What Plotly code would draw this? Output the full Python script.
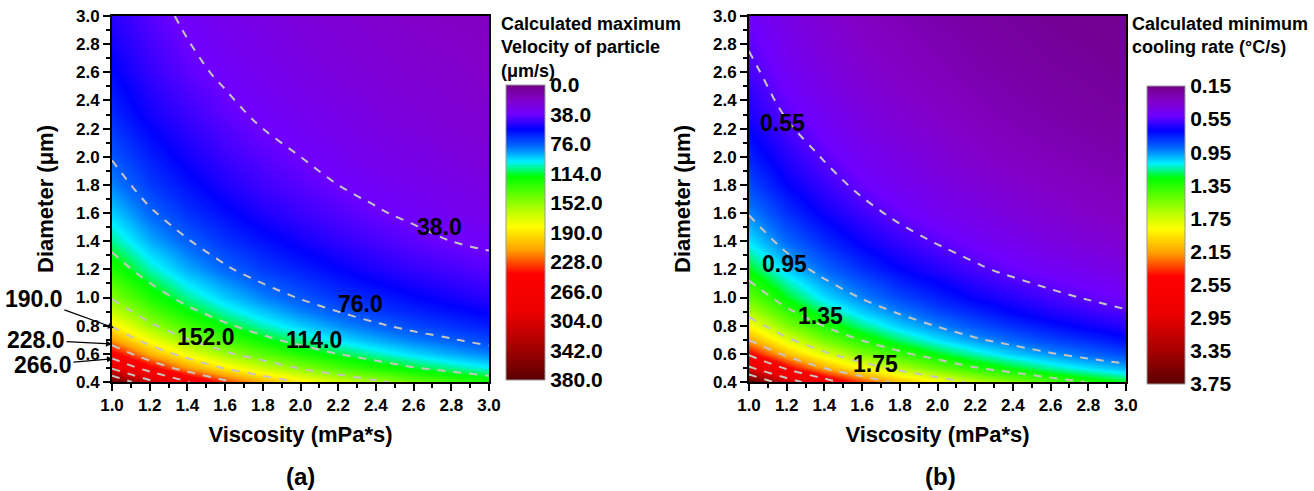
import plotly.graph_objects as go

# ---------------- data ----------------
VISCOSITY = [1.0, 1.2, 1.4, 1.6, 1.8, 2.0, 2.2, 2.4, 2.6, 2.8, 3.0]
DIAMETER = [0.4, 0.5, 0.6, 0.7, 0.8, 0.9, 1.0, 1.2, 1.4, 1.6, 1.8, 2.0, 2.3, 2.6, 3.0]

# calculated maximum velocity of particle (um/s); one row per diameter
VELOCITY = [
    [375, 313, 268, 234, 208, 188, 170, 156, 144, 134, 125],
    [300, 250, 214, 188, 167, 150, 136, 125, 115, 107, 100],
    [250, 208, 179, 156, 139, 125, 114, 104, 96, 89, 83],
    [214, 179, 153, 134, 119, 107, 97, 89, 82, 77, 71],
    [188, 156, 134, 117, 104, 94, 85, 78, 72, 67, 63],
    [167, 139, 119, 104, 93, 83, 76, 69, 64, 60, 56],
    [150, 125, 107, 94, 83, 75, 68, 63, 58, 54, 50],
    [125, 104, 89, 78, 69, 63, 57, 52, 48, 45, 42],
    [107, 89, 77, 67, 60, 54, 49, 45, 41, 38, 36],
    [94, 78, 67, 59, 52, 47, 43, 39, 36, 33, 31],
    [83, 69, 60, 52, 46, 42, 38, 35, 32, 30, 28],
    [75, 63, 54, 47, 42, 38, 34, 31, 29, 27, 25],
    [65, 54, 47, 41, 36, 33, 30, 27, 25, 23, 22],
    [58, 48, 41, 36, 32, 29, 26, 24, 22, 21, 19],
    [50, 42, 36, 31, 28, 25, 23, 21, 19, 18, 17],
]

# calculated minimum cooling rate (degC/s); one row per diameter
COOLING = [
    [3.75, 3.13, 2.68, 2.34, 2.08, 1.88, 1.70, 1.56, 1.44, 1.34, 1.25],
    [3.00, 2.50, 2.14, 1.88, 1.67, 1.50, 1.36, 1.25, 1.15, 1.07, 1.00],
    [2.50, 2.08, 1.79, 1.56, 1.39, 1.25, 1.14, 1.04, 0.96, 0.89, 0.83],
    [2.14, 1.79, 1.53, 1.34, 1.19, 1.07, 0.97, 0.89, 0.82, 0.77, 0.71],
    [1.88, 1.56, 1.34, 1.17, 1.04, 0.94, 0.85, 0.78, 0.72, 0.67, 0.63],
    [1.67, 1.39, 1.19, 1.04, 0.93, 0.83, 0.76, 0.69, 0.64, 0.60, 0.56],
    [1.50, 1.25, 1.07, 0.94, 0.83, 0.75, 0.68, 0.63, 0.58, 0.54, 0.50],
    [1.25, 1.04, 0.89, 0.78, 0.69, 0.63, 0.57, 0.52, 0.48, 0.45, 0.42],
    [1.07, 0.89, 0.77, 0.67, 0.60, 0.54, 0.49, 0.45, 0.41, 0.38, 0.36],
    [0.94, 0.78, 0.67, 0.59, 0.52, 0.47, 0.43, 0.39, 0.36, 0.33, 0.31],
    [0.83, 0.69, 0.60, 0.52, 0.46, 0.42, 0.38, 0.35, 0.32, 0.30, 0.28],
    [0.75, 0.63, 0.54, 0.47, 0.42, 0.38, 0.34, 0.31, 0.29, 0.27, 0.25],
    [0.65, 0.54, 0.47, 0.41, 0.36, 0.33, 0.30, 0.27, 0.25, 0.23, 0.22],
    [0.58, 0.48, 0.41, 0.36, 0.32, 0.29, 0.26, 0.24, 0.22, 0.21, 0.19],
    [0.50, 0.42, 0.36, 0.31, 0.28, 0.25, 0.23, 0.21, 0.19, 0.18, 0.17],
]

VEL_TICKS = [0, 38, 76, 114, 152, 190, 228, 266, 304, 342, 380]
COOL_TICKS = [0.15, 0.55, 0.95, 1.35, 1.75, 2.15, 2.55, 2.95, 3.35, 3.75]

VEL_LEVELS = (38, 342, 38)
COOL_LEVELS = (0.55, 3.35, 0.4)

# inline contour labels (text, viscosity, diameter)
VEL_LABELS = [("38.0", 2.74, 1.50), ("76.0", 2.32, 0.955),
              ("114.0", 2.07, 0.70), ("152.0", 1.50, 0.72)]
# labels with arrows (text, head viscosity, head diameter, dx px, dy px)
VEL_ARROW_LABELS = [("190.0", 1.01, 0.785, -80, -29),
                    ("228.0", 1.0, 0.67, -76, -4),
                    ("266.0", 1.005, 0.565, -70, 6)]
COOL_LABELS = [("0.55", 1.18, 2.24), ("0.95", 1.19, 1.24),
               ("1.35", 1.38, 0.87), ("1.75", 1.67, 0.53)]

# ---------------- style ----------------
W, H = 1314, 491
FONT = "Liberation Sans, Arial, sans-serif"

STOPS = [(0.0, "rgb(112,0,135)"), (0.05, "rgb(130,0,200)"), (0.10, "rgb(110,0,255)"),
         (0.15, "rgb(0,0,255)"), (0.21, "rgb(0,110,255)"), (0.26, "rgb(0,240,255)"),
         (0.31, "rgb(0,255,0)"), (0.43, "rgb(190,255,0)"), (0.48, "rgb(255,255,0)"),
         (0.56, "rgb(255,160,0)"), (0.64, "rgb(255,0,0)"), (0.77, "rgb(235,0,0)"),
         (0.89, "rgb(165,0,0)"), (1.0, "rgb(90,0,0)")]
# values are plotted negated so that the colour bar runs low (top) -> high (bottom)
REV_SCALE = [[1 - t, c] for t, c in reversed(STOPS)]


def px_x(p):
    return p / W


def px_y(p):
    return (H - p) / H


def neg(rows):
    return [[-v for v in r] for r in rows]


cbtick = dict(family=FONT, size=21, color="black", weight="bold")

fig = go.Figure()

# panel (a)
fig.add_trace(go.Heatmap(
    x=VISCOSITY, y=DIAMETER, z=neg(VELOCITY), zmin=-VEL_TICKS[-1], zmax=-VEL_TICKS[0],
    colorscale=REV_SCALE, zsmooth="best", hoverinfo="skip",
    colorbar=dict(x=px_x(506), xanchor="left", xpad=0, y=px_y(85), yanchor="top", ypad=0,
                  len=295, lenmode="pixels", thickness=39, outlinewidth=1, outlinecolor="#999",
                  tickmode="array", tickvals=[-t for t in VEL_TICKS],
                  ticktext=[f"{t:.1f}" for t in VEL_TICKS], ticks="", tickfont=cbtick),
    xaxis="x", yaxis="y"))
fig.add_trace(go.Contour(
    x=VISCOSITY, y=DIAMETER, z=VELOCITY, showscale=False, hoverinfo="skip",
    contours=dict(coloring="none", start=VEL_LEVELS[0], end=VEL_LEVELS[1], size=VEL_LEVELS[2]),
    line=dict(color="#c8c4c0", width=2, dash="8px,8px", smoothing=1),
    xaxis="x", yaxis="y"))

# panel (b)
fig.add_trace(go.Heatmap(
    x=VISCOSITY, y=DIAMETER, z=neg(COOLING), zmin=-COOL_TICKS[-1], zmax=-COOL_TICKS[0],
    colorscale=REV_SCALE, zsmooth="best", hoverinfo="skip",
    colorbar=dict(x=px_x(1147), xanchor="left", xpad=0, y=px_y(86), yanchor="top", ypad=0,
                  len=298, lenmode="pixels", thickness=38, outlinewidth=1, outlinecolor="#999",
                  tickmode="array", tickvals=[-t for t in COOL_TICKS],
                  ticktext=[f"{t:.2f}" for t in COOL_TICKS], ticks="", tickfont=cbtick),
    xaxis="x2", yaxis="y2"))
fig.add_trace(go.Contour(
    x=VISCOSITY, y=DIAMETER, z=COOLING, showscale=False, hoverinfo="skip",
    contours=dict(coloring="none", start=COOL_LEVELS[0], end=COOL_LEVELS[1], size=COOL_LEVELS[2]),
    line=dict(color="#c8c4c0", width=2, dash="8px,8px", smoothing=1),
    xaxis="x2", yaxis="y2"))

tickfont = dict(family=FONT, size=17, color="black", weight="bold")
titlefont = dict(family=FONT, size=22, color="black", weight="bold")


def xax(domain, anchor):
    return dict(domain=domain, anchor=anchor, range=[1.0, 3.0], tick0=1.0, dtick=0.2,
                tickformat=".1f", ticks="outside", ticklen=7, tickwidth=1.5, tickcolor="black",
                minor=dict(dtick=0.1, ticks="outside", ticklen=4, tickwidth=1.5, tickcolor="black"),
                showline=True, linewidth=2, linecolor="black", mirror=True, showgrid=False,
                zeroline=False, tickfont=tickfont, automargin=False,
                title=dict(text="Viscosity (mPa*s)", font=titlefont, standoff=12))


def yax(domain, anchor):
    return dict(domain=domain, anchor=anchor, range=[0.4, 3.0], tick0=0.4, dtick=0.2,
                tickformat=".1f", ticks="outside", ticklen=7, tickwidth=1.5, tickcolor="black",
                minor=dict(dtick=0.1, ticks="outside", ticklen=4, tickwidth=1.5, tickcolor="black"),
                showline=True, linewidth=2, linecolor="black", mirror=True, showgrid=False,
                zeroline=False, tickfont=tickfont, automargin=False,
                title=dict(text="Diameter (μm)", font=titlefont, standoff=16))


ydom = [px_y(382), px_y(16)]
fig.update_layout(
    width=W, height=H, margin=dict(l=0, r=0, t=0, b=0, autoexpand=False),
    paper_bgcolor="white", plot_bgcolor="white", showlegend=False,
    font=dict(family=FONT, color="black"),
    xaxis=xax([px_x(112), px_x(489)], "y"),
    yaxis=yax(ydom, "x"),
    xaxis2=xax([px_x(749), px_x(1126)], "y2"),
    yaxis2=yax(ydom, "x2"),
)

ann = []
lblfont = dict(family=FONT, size=23, color="black", weight="bold")
for t, xv, yv in VEL_LABELS:
    ann.append(dict(text=t, x=xv, y=yv, xref="x", yref="y", showarrow=False, font=lblfont))
for t, xv, yv, dx, dy in VEL_ARROW_LABELS:
    ann.append(dict(text=t, x=xv, y=yv, xref="x", yref="y", showarrow=True, ax=dx, ay=dy,
                    arrowhead=2, arrowsize=1, arrowwidth=1.2, arrowcolor="black", font=lblfont))
for t, xv, yv in COOL_LABELS:
    ann.append(dict(text=t, x=xv, y=yv, xref="x2", yref="y2", showarrow=False, font=lblfont))

cbtitle = dict(family=FONT, size=18, color="black", weight="bold")
ann.append(dict(text="Calculated maximum<br>Velocity of particle<br>(μm/s)", x=px_x(499), y=px_y(12),
                xref="paper", yref="paper", xanchor="left", yanchor="top", align="left",
                showarrow=False, font=cbtitle))
ann.append(dict(text="Calculated minimum<br>cooling rate (°C/s)", x=px_x(1130), y=px_y(12),
                xref="paper", yref="paper", xanchor="left", yanchor="top", align="left",
                showarrow=False, font=cbtitle))
panfont = dict(family=FONT, size=24, color="black", weight="bold")
ann.append(dict(text="(a)", x=px_x(300), y=px_y(476), xref="paper", yref="paper",
                xanchor="center", yanchor="middle", showarrow=False, font=panfont))
ann.append(dict(text="(b)", x=px_x(940), y=px_y(476), xref="paper", yref="paper",
                xanchor="center", yanchor="middle", showarrow=False, font=panfont))
fig.update_layout(annotations=ann)

fig.write_html("out.html", config={"displayModeBar": False},
               post_script="document.body.style.margin='0px';document.body.style.overflow='hidden';")
